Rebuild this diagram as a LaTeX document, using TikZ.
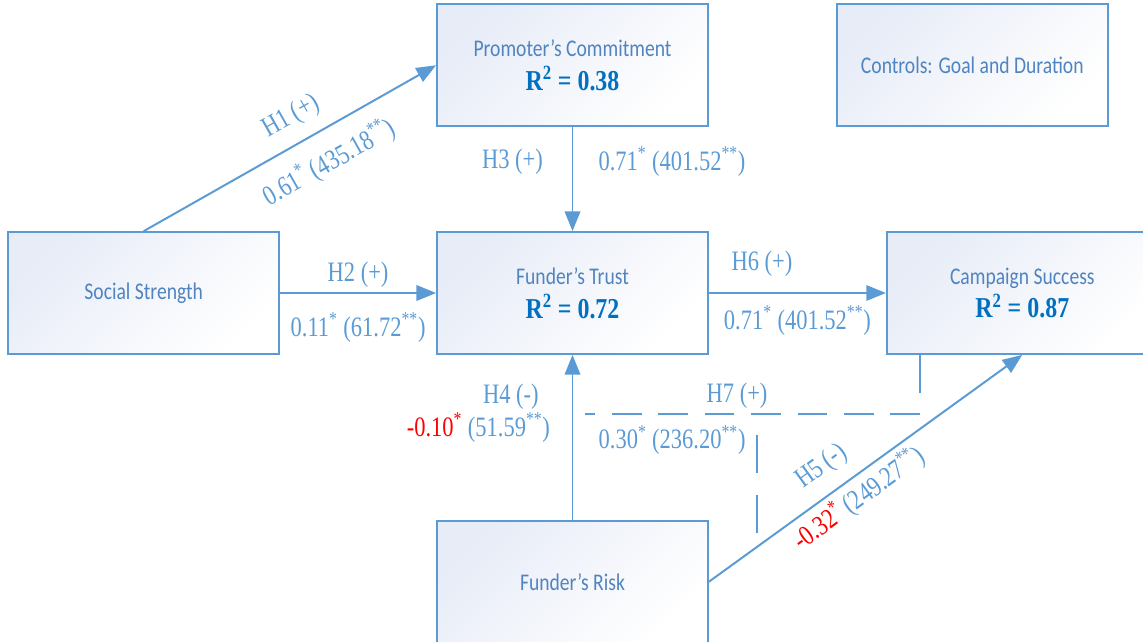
\documentclass[tikz,border=0pt]{standalone}
\usepackage{fontspec}
\setmainfont{Liberation Serif}[FakeStretch=0.8]
\newfontfamily\calibri{Carlito}[FakeStretch=0.82]
\newfontfamily\rsqfont{Liberation Serif}[FakeStretch=0.83]
\usetikzlibrary{arrows.meta,positioning}
\definecolor{pathblue}{RGB}{91,155,213}
\definecolor{nameblue}{RGB}{80,132,192}
\definecolor{rsqblue}{RGB}{0,112,192}
\definecolor{shadeblue}{RGB}{231,236,247}
\newcommand{\rsq}[1]{{\rsqfont\bfseries\fontsize{20.5}{24}\selectfont\color{rsqblue}R\textsuperscript{2} = #1}}
\newcommand{\coef}[2]{#1\textsuperscript{*} (#2\textsuperscript{**})}

\begin{document}
\begin{tikzpicture}[
    x=0.025cm, y=-0.025cm,
    construct/.style={rectangle, draw=pathblue, line width=1.2pt, top color=shadeblue, bottom color=white, shading angle=45, minimum width=6.775cm, minimum height=3.05cm, align=center, text=nameblue, font=\calibri\fontsize{17}{20}\selectfont},
    link/.style={-{Triangle[length=14pt,width=11pt]}, line width=1.4pt, draw=pathblue},
    moderation/.style={line width=1.4pt, draw=pathblue},
    hyp/.style={text=pathblue, font=\fontsize{20}{23}\selectfont}
  ]
    \useasboundingbox (0,0) rectangle (1143,642);
    \node[construct] (trust) at (572.5,293) {Funder’s Trust\\[4pt]\rsq{0.72}};
    \node[construct, above=2.6cm of trust] (commit) {Promoter’s Commitment\\[4pt]\rsq{0.38}};
    \node[construct, right=3.175cm of commit] (controls) {Controls: Goal and Duration};
    \node[construct, left=3.9cm of trust] (social) {Social Strength};
    \node[construct, right=4.425cm of trust] (success) {Campaign Success\\[4pt]\rsq{0.87}};
    \node[construct, below=4.125cm of trust] (risk) {Funder’s Risk};
    \draw[link] (social.north) -- (commit.west)
      node[hyp, pos=0.55, sloped, above=6pt] {H1 (+)}
      node[hyp, pos=0.58, sloped, below=8pt] {\coef{0.61}{435.18}};
    \draw[link] (commit) -- (trust)
      node[hyp, pos=0.33, left=17pt] {H3 (+)}
      node[hyp, pos=0.33, right=14.5pt] {\coef{0.71}{401.52}};
    \draw[link] (social) -- (trust)
      node[hyp, midway, above=0pt] {H2 (+)}
      node[hyp, midway, below=10pt] {\coef{0.11}{61.72}};
    \draw[link] (trust) -- (success)
      node[hyp, pos=0.3, above=8pt] {H6 (+)}
      node[hyp, midway, below=5pt] {\coef{0.71}{401.52}};
    \draw[link] (risk) -- (trust)
      node[hyp, pos=0.745, left=20pt] {H4 (-)}
      node[hyp, pos=0.56, left=12pt] {{\color{red}-0.10\textsuperscript{*}} (51.59\textsuperscript{**})};
    \draw[link] (risk.east) -- (success.south)
      node[hyp, pos=0.41, sloped, above=6pt] {H5 (-)}
      node[hyp, pos=0.44, sloped, below=0pt] {{\color{red}-0.32\textsuperscript{*}} (249.27\textsuperscript{**})};
    \coordinate (h7corner) at (920,414);
    \coordinate (h7left) at (585,414);
    \coordinate (h7knee) at (757,414);
    \coordinate (h7foot) at (757,533);
    \draw[moderation, dash pattern=on 27pt off 16pt] (success.south -| h7corner) -- (h7corner);
    \draw[moderation, dash pattern=on 21pt off 12pt] (h7corner) -- (h7left)
      node[hyp, pos=0.546, above=0pt] {H7 (+)}
      node[hyp, pos=0.74, below=4pt] {\coef{0.30}{236.20}};
    \draw[moderation, dash pattern=on 27pt off 16pt] (h7foot) -- (h7knee);
  \end{tikzpicture}
\end{document}
